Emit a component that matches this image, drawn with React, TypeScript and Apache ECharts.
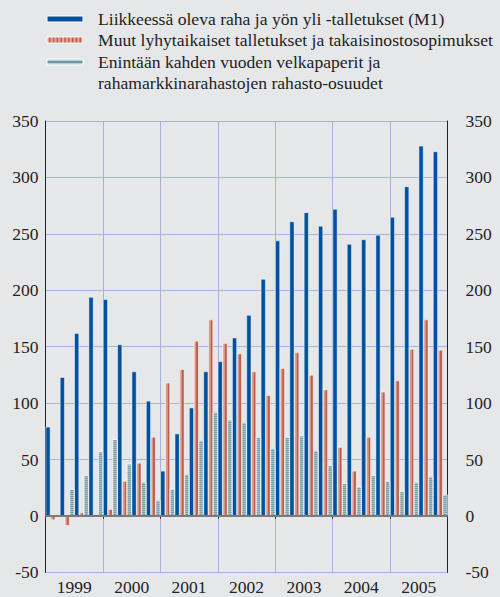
import React, { useEffect, useRef } from "react";
import * as echarts from "echarts";

const years = ["1999", "2000", "2001", "2002", "2003", "2004", "2005"];
const quarterNames = ["Q1", "Q2", "Q3", "Q4"];

const seriesNames = [
  "Liikkeessä oleva raha ja yön yli -talletukset (M1)",
  "Muut lyhytaikaiset talletukset ja takaisinostosopimukset",
  "Enintään kahden vuoden velkapaperit ja\nrahamarkkinarahastojen rahasto-osuudet",
];

const m1Values = [
  79, 123, 162, 194, 192, 152, 128, 102, 40, 73, 96, 128, 137, 158, 178, 210,
  244, 261, 269, 257, 272, 241, 245, 249, 265, 292, 328, 323,
];
const otherDeposits = [
  -3.5, -8.6, 3, 1.5, 6, 31, 47, 70, 118, 130, 155, 174, 153, 144, 128, 107,
  131, 145, 125, 112, 61, 40, 70, 110, 120, 148, 174, 147,
];
const debtSecurities = [
  null, 24, 36, 57, 68, 46, 30, 14, 24, 37, 67, 92, 85, 83, 70, 60, 70, 71, 58,
  45, 29, 26, 36, 31, 22, 30, 35, 19,
];

const yTicks = { min: -50, max: 350, interval: 50 };

const FONT = "'Liberation Serif', 'Times New Roman', serif";
const BG = "#e6e7e9";
const BLUE = "#0052a0";
const GRID = "#a8b3dc";

export default function App() {
  const ref = useRef<HTMLDivElement>(null);

  useEffect(() => {
    if (!ref.current) return;
    const chart = echarts.init(ref.current, undefined, { renderer: "svg" });

    const quarters: string[] = [];
    years.forEach((y) => quarterNames.forEach((q) => quarters.push(y + q)));

    const redGradient = new echarts.graphic.LinearGradient(0, 0, 1, 0, [
      { offset: 0, color: "#e2a695" },
      { offset: 0.5, color: "#d6917f" },
      { offset: 0.55, color: "#bf604e" },
      { offset: 1, color: "#b9584a" },
    ]);

    const legendX = 47;
    const legendW = 36;
    const textX = 98;
    const rows = [19, 40, 62];
    const graphics: any[] = [];
    graphics.push({
      type: "rect",
      shape: { x: legendX, y: rows[0] - 3, width: legendW, height: 6 },
      style: { fill: BLUE, stroke: "#fff", lineWidth: 1 },
    });
    graphics.push({
      type: "rect",
      shape: { x: legendX, y: rows[1] - 3, width: legendW, height: 6 },
      style: { fill: "#e2a494", stroke: "#fff", lineWidth: 1 },
    });
    for (let i = 0; i < 9; i++) {
      graphics.push({
        type: "rect",
        shape: { x: legendX + 2 + i * 3.8, y: rows[1] - 2.5, width: 1.6, height: 5 },
        style: { fill: "#c0604f" },
      });
    }
    graphics.push({
      type: "rect",
      shape: { x: legendX, y: rows[2] - 3, width: legendW, height: 6 },
      style: { fill: "#b6ced4", stroke: "#fff", lineWidth: 1 },
    });
    graphics.push({
      type: "rect",
      shape: { x: legendX + 0.5, y: rows[2] - 1, width: legendW - 1, height: 2 },
      style: { fill: "#6e97a2" },
    });
    const textStyle = { fontFamily: FONT, fontSize: 17.6, fill: "#222" };
    graphics.push({
      type: "text",
      x: textX,
      y: rows[0],
      style: { ...textStyle, text: seriesNames[0], verticalAlign: "middle" },
    });
    graphics.push({
      type: "text",
      x: textX,
      y: rows[1],
      style: { ...textStyle, text: seriesNames[1], verticalAlign: "middle" },
    });
    graphics.push({
      type: "text",
      x: textX,
      y: rows[2] - 10.5,
      style: {
        ...textStyle,
        text: seriesNames[2],
        verticalAlign: "top",
        lineHeight: 21,
      },
    });

    const yAxisBase = {
      type: "value",
      min: yTicks.min,
      max: yTicks.max,
      interval: yTicks.interval,
      axisTick: { show: false },
      axisLine: { show: true, lineStyle: { color: "#222", width: 1 } },
    };

    const labelStyle = { fontFamily: FONT, fontSize: 17.5, color: "#222" };

    chart.setOption({
      animation: false,
      backgroundColor: BG,
      textStyle: { fontFamily: FONT },
      graphic: graphics,
      grid: { left: 45.6, right: 52.6, top: 121, bottom: 24.6 },
      xAxis: [
        {
          type: "category",
          data: quarters,
          show: false,
          boundaryGap: true,
        },
        {
          type: "category",
          data: years,
          position: "bottom",
          boundaryGap: true,
          axisLine: { show: true, lineStyle: { color: "#3a3a3a", width: 1 } },
          axisTick: { show: true, length: 3, lineStyle: { color: "#3a3a3a" } },
          axisLabel: { ...labelStyle, margin: 6 },
          splitLine: { show: true, lineStyle: { color: GRID, width: 1 } },
        },
      ],
      yAxis: [
        {
          ...yAxisBase,
          position: "left",
          axisLabel: { ...labelStyle, margin: 7 },
          splitLine: { show: true, lineStyle: { color: GRID, width: 1 } },
        },
        {
          ...yAxisBase,
          position: "right",
          axisLabel: { ...labelStyle, margin: 18, align: "left" },
          splitLine: { show: false },
        },
      ],
      series: [
        {
          name: seriesNames[0],
          type: "bar",
          xAxisIndex: 0,
          yAxisIndex: 0,
          data: m1Values,
          barGap: "0%",
          barCategoryGap: "0%",
          itemStyle: { color: BLUE, borderColor: "#fff", borderWidth: 0.5 },
          markLine: {
            silent: true,
            symbol: "none",
            label: { show: false },
            lineStyle: { color: "#7a7a7a", width: 2, type: "solid" },
            data: [{ yAxis: 0 }],
          },
        },
        {
          name: seriesNames[1],
          type: "bar",
          xAxisIndex: 0,
          yAxisIndex: 0,
          data: otherDeposits,
          barGap: "0%",
          barCategoryGap: "0%",
          itemStyle: { color: redGradient, borderColor: "#fff", borderWidth: 0.5 },
        },
        {
          name: seriesNames[2],
          type: "bar",
          xAxisIndex: 0,
          yAxisIndex: 0,
          data: debtSecurities,
          barGap: "0%",
          barCategoryGap: "0%",
          itemStyle: {
            color: "#a2bfc7",
            borderColor: "#fff",
            borderWidth: 0.5,
            decal: {
              symbol: "rect",
              symbolSize: 1,
              dashArrayX: [[1, 0]],
              dashArrayY: [1, 1],
              color: "#7aa0aa",
              rotation: 0,
            },
          },
        },
      ],
    });

    return () => chart.dispose();
  }, []);

  return (
    <div
      style={{
        position: "fixed",
        left: 0,
        top: 0,
        width: 500,
        height: 597,
        background: BG,
      }}
    >
      <div ref={ref} style={{ width: 500, height: 597 }} />
    </div>
  );
}
